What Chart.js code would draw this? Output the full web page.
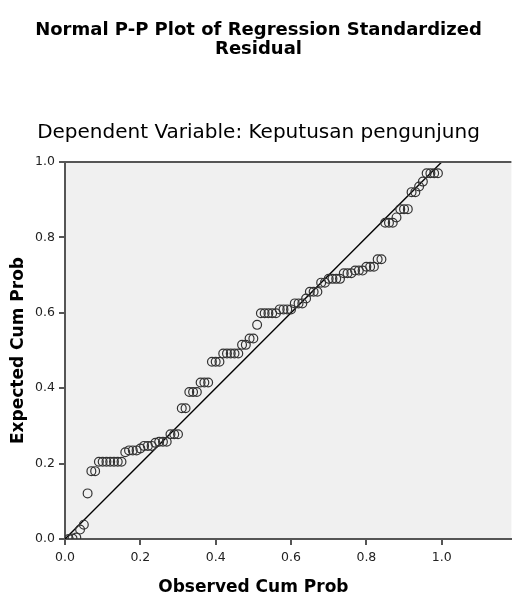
<!DOCTYPE html>
<html>
<head>
<meta charset="utf-8">
<script src="https://cdn.jsdelivr.net/npm/chart.js@4.4.1/dist/chart.umd.min.js"></script>
<style>
  html, body { margin: 0; padding: 0; background: #ffffff; }
  #wrap { width: 517px; height: 596px; position: relative; }
</style>
</head>
<body>
<div id="wrap"><canvas id="c" width="517" height="596"></canvas></div>
<script>
// ---- data ----
const titleLines = ["Normal P-P Plot of Regression Standardized", "Residual"];
const subtitleText = "Dependent Variable: Keputusan pengunjung";
const xAxisTitle = "Observed Cum Prob";
const yAxisTitle = "Expected Cum Prob";

const xTickValues = [0.0, 0.2, 0.4, 0.6, 0.8, 1.0];
const yTickValues = [0.0, 0.2, 0.4, 0.6, 0.8, 1.0];

const observedCumProb = [
  0.01, 0.02, 0.03, 0.04, 0.05, 0.06, 0.07, 0.08, 0.09, 0.10,
  0.11, 0.12, 0.13, 0.14, 0.15, 0.16, 0.17, 0.18, 0.19, 0.20,
  0.21, 0.22, 0.23, 0.24, 0.25, 0.26, 0.27, 0.28, 0.29, 0.30,
  0.31, 0.32, 0.33, 0.34, 0.35, 0.36, 0.37, 0.38, 0.39, 0.40,
  0.41, 0.42, 0.43, 0.44, 0.45, 0.46, 0.47, 0.48, 0.49, 0.50,
  0.51, 0.52, 0.53, 0.54, 0.55, 0.56, 0.57, 0.58, 0.59, 0.60,
  0.61, 0.62, 0.63, 0.64, 0.65, 0.66, 0.67, 0.68, 0.69, 0.70,
  0.71, 0.72, 0.73, 0.74, 0.75, 0.76, 0.77, 0.78, 0.79, 0.80,
  0.81, 0.82, 0.83, 0.84, 0.85, 0.86, 0.87, 0.88, 0.89, 0.90,
  0.91, 0.92, 0.93, 0.94, 0.95, 0.96, 0.97, 0.98, 0.99
];
const expectedCumProb = [
  0.000, 0.001, 0.004, 0.025, 0.038, 0.121, 0.180, 0.180, 0.205, 0.205,
  0.205, 0.205, 0.205, 0.205, 0.205, 0.230, 0.235, 0.235, 0.235, 0.240,
  0.247, 0.247, 0.247, 0.255, 0.258, 0.258, 0.258, 0.278, 0.278, 0.278,
  0.347, 0.347, 0.390, 0.390, 0.390, 0.415, 0.415, 0.415, 0.470, 0.470,
  0.470, 0.492, 0.492, 0.492, 0.492, 0.492, 0.515, 0.515, 0.532, 0.532,
  0.568, 0.599, 0.599, 0.599, 0.599, 0.599, 0.609, 0.609, 0.609, 0.609,
  0.625, 0.625, 0.625, 0.638, 0.656, 0.656, 0.656, 0.680, 0.680, 0.690,
  0.690, 0.690, 0.690, 0.705, 0.705, 0.705, 0.712, 0.712, 0.712, 0.722,
  0.722, 0.722, 0.742, 0.742, 0.839, 0.839, 0.839, 0.853, 0.875, 0.875,
  0.875, 0.920, 0.920, 0.935, 0.948, 0.970, 0.970, 0.970, 0.970
];
const refLineX = [0, 1];
const refLineY = [0, 1];

// ---- chart ----
const points = observedCumProb.map((x, i) => ({ x: x, y: expectedCumProb[i] }));
const refLine = refLineX.map((x, i) => ({ x: x, y: refLineY[i] }));

const FONT = "'DejaVu Sans', 'Liberation Sans', Arial, sans-serif";

const framePlugin = {
  id: 'frame',
  beforeDraw(chart) {
    const { ctx, chartArea: a } = chart;
    ctx.save();
    ctx.fillStyle = '#f0f0f0';
    ctx.fillRect(a.left, a.top, a.right - a.left, a.bottom - a.top);
    ctx.restore();
  },
  afterDraw(chart) {
    const { ctx, chartArea: a } = chart;
    const xs = chart.scales.x;
    ctx.save();
    ctx.strokeStyle = '#555555';
    ctx.lineWidth = 2;
    ctx.beginPath();
    ctx.moveTo(a.left - 1, a.top);
    ctx.lineTo(a.right, a.top);
    ctx.stroke();
    // x-axis title, centred over the 0..1 range
    ctx.fillStyle = '#000000';
    ctx.font = "bold 17px " + FONT;
    ctx.textAlign = 'center';
    ctx.textBaseline = 'alphabetic';
    ctx.fillText(xAxisTitle, xs.getPixelForValue(0.5), 592);
    ctx.restore();
  }
};

new Chart(document.getElementById('c'), {
  data: {
    datasets: [
      {
        type: 'line',
        data: refLine,
        borderColor: '#000000',
        borderWidth: 1.4,
        pointRadius: 0,
        fill: false,
        tension: 0,
        order: 2
      },
      {
        type: 'scatter',
        data: points,
        pointStyle: 'circle',
        pointRadius: 4.4,
        pointBorderWidth: 1.2,
        borderColor: '#333333',
        backgroundColor: 'rgba(0,0,0,0)',
        order: 1
      }
    ]
  },
  options: {
    responsive: false,
    animation: false,
    devicePixelRatio: 1,
    layout: { padding: { left: 0, right: 0, top: 0, bottom: 0 } },
    plugins: {
      legend: { display: false },
      tooltip: { enabled: false },
      title: {
        display: true,
        text: titleLines,
        color: '#000000',
        font: { family: FONT, size: 18, weight: 'bold', lineHeight: '19px' },
        padding: { top: 20.5, bottom: 0 }
      },
      subtitle: {
        display: true,
        text: subtitleText,
        color: '#000000',
        font: { family: FONT, size: 20, weight: 'normal', lineHeight: '20px' },
        padding: { top: 64.6, bottom: 18.9 }
      }
    },
    scales: {
      x: {
        type: 'linear',
        position: 'bottom',
        min: 0,
        max: 1.185,
        afterFit(scale) { scale.height = 57; },
        afterBuildTicks(scale) { scale.ticks = xTickValues.map(v => ({ value: v })); },
        ticks: {
          includeBounds: false,
          color: '#222222',
          font: { family: FONT, size: 12.5 },
          padding: 5,
          maxRotation: 0,
          autoSkip: false,
          callback: (v) => Number(v).toFixed(1)
        },
        grid: {
          drawOnChartArea: false,
          drawTicks: true,
          tickLength: 6,
          color: '#555555',
          lineWidth: 2
        },
        border: { display: true, color: '#555555', width: 2 },
        title: { display: false }
      },
      y: {
        type: 'linear',
        position: 'left',
        min: 0,
        max: 1,
        afterFit(scale) { scale.width = 65; },
        afterBuildTicks(scale) { scale.ticks = yTickValues.map(v => ({ value: v })); },
        ticks: {
          includeBounds: false,
          color: '#222222',
          font: { family: FONT, size: 12.5 },
          padding: 4,
          autoSkip: false,
          callback: (v) => Number(v).toFixed(1)
        },
        grid: {
          drawOnChartArea: false,
          drawTicks: true,
          tickLength: 6,
          color: '#555555',
          lineWidth: 2
        },
        border: { display: true, color: '#555555', width: 2 },
        title: {
          display: true,
          text: yAxisTitle,
          color: '#000000',
          font: { family: FONT, size: 17, weight: 'bold', lineHeight: 1.2 },
          padding: { top: 8, bottom: 0 }
        }
      }
    }
  },
  plugins: [framePlugin]
});
</script>
</body>
</html>
